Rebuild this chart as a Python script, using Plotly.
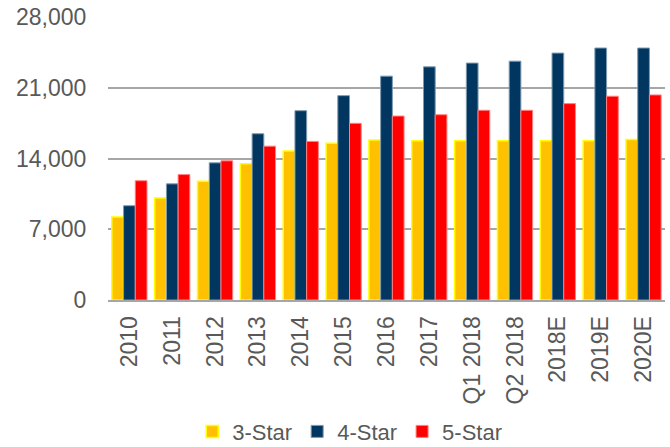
import plotly.graph_objects as go

years = ['2010', '2011', '2012', '2013', '2014', '2015', '2016', '2017',
         'Q1 2018', 'Q2 2018', '2018E', '2019E', '2020E']
star3 = [8200, 10100, 11750, 13470, 14730, 15520, 15820, 15750, 15750, 15750, 15750, 15750, 15890]
star4 = [9330, 11490, 13570, 16450, 18730, 20220, 22150, 23070, 23440, 23630, 24430, 24930, 24930]
star5 = [11800, 12410, 13770, 15220, 15690, 17480, 18200, 18330, 18770, 18770, 19430, 20160, 20290]

fig = go.Figure()
fig.add_trace(go.Bar(x=years, y=star3, name='3-Star',
                     marker=dict(color='#FFC000', line=dict(color='#FFFF00', width=1.5))))
fig.add_trace(go.Bar(x=years, y=star4, name='4-Star',
                     marker=dict(color='#003660', line=dict(color='#7F9AB0', width=1))))
fig.add_trace(go.Bar(x=years, y=star5, name='5-Star',
                     marker=dict(color='#FF0000', line=dict(color='#FF8080', width=1))))

fig.update_layout(
    width=670, height=447,
    barmode='group',
    bargap=0.18,
    bargroupgap=0,
    plot_bgcolor='white',
    paper_bgcolor='white',
    font=dict(family='Liberation Sans, Arial', size=23, color='#595959'),
    margin=dict(l=108, r=5, t=17, b=147, autoexpand=False),
    xaxis=dict(
        tickangle=-90,
        showgrid=False,
        showline=True,
        linecolor='#A6A6A6',
        linewidth=2,
        ticks='outside',
        ticklen=5,
        tickcolor='rgba(0,0,0,0)',
        tickfont=dict(size=23),
    ),
    yaxis=dict(
        range=[0, 28000],
        dtick=7000,
        tickformat=',',
        showgrid=True,
        gridcolor='#A6A6A6',
        gridwidth=2,
        zeroline=False,
        ticks='outside',
        ticklen=16,
        tickcolor='rgba(0,0,0,0)',
        tickfont=dict(size=23),
        ticklabeloverflow='allow',
    ),
    legend=dict(
        orientation='h',
        x=0.434, xanchor='center',
        y=-0.465, yanchor='middle',
        font=dict(size=22),
        itemwidth=30,
    ),
)

# drop the default body margin so the figure fills the window exactly
fig.write_html("out.html", config={'displayModeBar': False},
               post_script="document.body.style.margin='0';")
